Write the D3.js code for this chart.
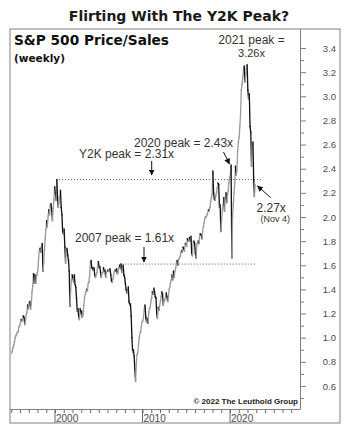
<!DOCTYPE html>
<html><head><meta charset="utf-8">
<script src="https://cdn.jsdelivr.net/npm/d3@7"></script>
<style>body{margin:0;background:#fff}</style>
</head><body><svg id="c" width="350" height="437"></svg>
<script>
// ---------- DATA ----------
const startYear = 1995;            // first month: Jan 1995, monthly readings
const psValues = [
  // 1995
  0.87,0.89,0.92,0.94,0.97,1.00,1.02,1.03,1.05,1.05,1.09,1.10,
  // 1996
  1.12,1.15,1.14,1.16,1.18,1.17,1.11,1.14,1.19,1.21,1.27,1.24,
  // 1997
  1.29,1.30,1.24,1.28,1.38,1.43,1.53,1.45,1.52,1.45,1.50,1.53,
  // 1998
  1.56,1.66,1.72,1.74,1.71,1.76,1.78,1.55,1.62,1.72,1.82,1.90,
  // 1999
  1.97,1.92,2.00,2.06,2.02,2.10,2.11,2.05,1.97,2.07,2.14,2.25,
  // 2000
  2.20,2.14,2.31,2.16,2.08,2.12,2.17,2.22,2.08,2.02,1.88,1.86,
  // 2001
  1.90,1.75,1.62,1.72,1.74,1.68,1.64,1.55,1.26,1.40,1.48,1.52,
  // 2002
  1.50,1.46,1.52,1.44,1.42,1.33,1.22,1.24,1.18,1.15,1.24,1.20,
  // 2003
  1.22,1.17,1.19,1.27,1.33,1.36,1.38,1.40,1.39,1.45,1.46,1.52,
  // 2004
  1.62,1.64,1.58,1.57,1.56,1.58,1.52,1.50,1.52,1.54,1.60,1.63,
  // 2005
  1.58,1.59,1.54,1.50,1.53,1.54,1.58,1.55,1.56,1.50,1.54,1.55,
  // 2006
  1.56,1.55,1.56,1.57,1.52,1.47,1.46,1.49,1.52,1.55,1.56,1.55,
  // 2007
  1.57,1.53,1.54,1.58,1.60,1.58,1.61,1.54,1.58,1.60,1.52,1.50,
  // 2008
  1.45,1.40,1.37,1.40,1.42,1.30,1.27,1.28,1.18,1.00,0.88,0.90,
  // 2009
  0.85,0.74,0.64,0.78,0.86,0.88,0.94,1.00,1.04,1.05,1.10,1.13,
  // 2010
  1.14,1.18,1.24,1.27,1.17,1.13,1.16,1.12,1.20,1.24,1.25,1.30,
  // 2011
  1.33,1.38,1.36,1.41,1.38,1.34,1.33,1.20,1.16,1.25,1.23,1.27,
  // 2012
  1.30,1.34,1.38,1.36,1.27,1.30,1.31,1.34,1.37,1.34,1.30,1.33,
  // 2013
  1.40,1.42,1.46,1.48,1.52,1.48,1.55,1.50,1.55,1.58,1.62,1.64,
  // 2014
  1.60,1.65,1.66,1.67,1.70,1.72,1.71,1.75,1.74,1.72,1.78,1.78,
  // 2015
  1.76,1.82,1.80,1.81,1.83,1.80,1.84,1.70,1.68,1.79,1.80,1.78,
  // 2016
  1.70,1.66,1.77,1.79,1.80,1.78,1.86,1.86,1.85,1.82,1.88,1.92,
  // 2017
  1.95,1.99,2.00,2.00,2.02,2.04,2.06,2.05,2.08,2.13,2.16,2.19,
  // 2018
  2.38,2.20,2.15,2.14,2.18,2.20,2.24,2.28,2.27,2.08,2.10,1.88,
  // 2019
  1.98,2.06,2.10,2.16,2.05,2.15,2.20,2.12,2.18,2.22,2.28,2.33,
  // 2020
  2.35,2.43,1.66,2.00,2.10,2.20,2.28,2.42,2.35,2.38,2.55,2.62,
  // 2021
  2.66,2.75,2.85,3.05,3.10,3.15,3.22,3.25,3.12,3.18,3.24,3.26,
  // 2022 (through Nov 4)
  3.05,2.98,3.02,2.75,2.70,2.42,2.58,2.62,2.30,2.17,2.27
];
const yMajorTicks = [0.6,0.8,1.0,1.2,1.4,1.6,1.8,2.0,2.2,2.4,2.6,2.8,3.0,3.2,3.4];
const yMinorTicks = [0.5,0.7,0.9,1.1,1.3,1.5,1.7,1.9,2.1,2.3,2.5,2.7,2.9,3.1,3.3];
const xTickYears = d3.range(1995, 2028);
const xLabelYears = [2000, 2010, 2020];
const y2kPeak = 2.31;
const peak2007 = 1.61;

const chartTitle = "Flirting With The Y2K Peak?";
const panelTitle = "S&P 500 Price/Sales";
const panelSub = "(weekly)";
const credit = "\u00A9 2022 The Leuthold Group";

// ---------- LAYOUT ----------
const frame = {left:10, top:29, right:340, bottom:423};
const plotRight = 300, plotBottom = 409;
const gray = "#808080";

const svg = d3.select("#c");
const x = d3.scaleLinear().domain([2000, 2020]).range([55, 230]);
const y = d3.scaleLinear().domain([0.6, 3.4]).range([386, 48]);

const series = psValues.map((v, i) => ({t: startYear + (i + 0.5) / 12, v}));

// title
svg.append("text").attr("x", 179).attr("y", 20.5).attr("text-anchor", "middle")
  .attr("font-family", "DejaVu Sans").attr("font-weight", "bold").attr("font-size", 14)
  .attr("fill", "#1a1a1a").text(chartTitle);

// defs
const defs = svg.append("defs");
defs.append("clipPath").attr("id", "clip").append("rect")
  .attr("x", frame.left).attr("y", frame.top)
  .attr("width", plotRight - frame.left).attr("height", plotBottom - frame.top);
defs.append("marker").attr("id", "ah").attr("viewBox", "0 0 10 10")
  .attr("refX", 9).attr("refY", 5).attr("markerWidth", 6).attr("markerHeight", 6)
  .attr("markerUnits", "userSpaceOnUse").attr("orient", "auto")
  .append("path").attr("d", "M0,0L10,5L0,10Z").attr("fill", "#111");

// dotted reference lines
const refs = [
  {v: y2kPeak, from: 2000.12, to: 2023.55},
  {v: peak2007, from: 2007.62, to: 2022.98}
];
svg.append("g").selectAll("line").data(refs).join("line")
  .attr("x1", d => x(d.from)).attr("x2", d => x(d.to))
  .attr("y1", d => y(d.v)).attr("y2", d => y(d.v))
  .attr("stroke", "#555").attr("stroke-width", 1).attr("stroke-dasharray", "1,2");

// series: segments colored by direction
const segs = d3.pairs(series);
svg.append("g").attr("clip-path", "url(#clip)").selectAll("line").data(segs).join("line")
  .attr("x1", d => x(d[0].t)).attr("y1", d => y(d[0].v))
  .attr("x2", d => x(d[1].t)).attr("y2", d => y(d[1].v))
  .attr("stroke", d => d[1].v >= d[0].v ? "#9a9a9a" : "#111")
  .attr("stroke-width", 1.3).attr("stroke-linecap", "square");

// right axis
const yAxisG = svg.append("g").attr("transform", `translate(${plotRight},0)`)
  .call(d3.axisRight(y).tickValues(yMajorTicks).tickSize(6).tickFormat(d3.format(".1f")));
yAxisG.select(".domain").remove();
yAxisG.selectAll(".tick line").attr("stroke", gray);
yAxisG.selectAll(".tick text").attr("x", 36).attr("text-anchor", "end")
  .attr("font-family", "Liberation Sans, Arial, sans-serif").attr("font-size", 9.5).attr("fill", "#4a4a5a");
const yMinorG = svg.append("g").attr("transform", `translate(${plotRight},0)`)
  .call(d3.axisRight(y).tickValues(yMinorTicks).tickSize(4).tickFormat(""));
yMinorG.select(".domain").remove();
yMinorG.selectAll(".tick line").attr("stroke", gray);

// bottom axis
const xAxisG = svg.append("g").attr("transform", `translate(0,${plotBottom})`)
  .call(d3.axisBottom(x).tickValues(xTickYears).tickSize(4).tickFormat(""));
xAxisG.select(".domain").remove();
xAxisG.selectAll(".tick line").attr("stroke", "#666");
svg.append("g").selectAll("line").data(xLabelYears).join("line")
  .attr("x1", d => x(d)).attr("x2", d => x(d))
  .attr("y1", plotBottom).attr("y2", frame.bottom).attr("stroke", "#666");
svg.append("g").selectAll("text").data(xLabelYears).join("text")
  .attr("x", d => x(d) + 1).attr("y", 421.5)
  .attr("font-family", "Liberation Sans, Arial, sans-serif").attr("font-size", 10)
  .attr("fill", "#4a4a5a").text(d => d);

// frames
svg.append("rect").attr("x", frame.left).attr("y", frame.top)
  .attr("width", frame.right - frame.left).attr("height", frame.bottom - frame.top)
  .attr("fill", "none").attr("stroke", gray);
svg.append("line").attr("x1", plotRight + 0.5).attr("x2", plotRight + 0.5)
  .attr("y1", frame.top).attr("y2", plotBottom).attr("stroke", gray);
svg.append("line").attr("x1", frame.left).attr("x2", plotRight + 0.5)
  .attr("y1", plotBottom + 0.5).attr("y2", plotBottom + 0.5).attr("stroke", gray);

// panel titles
svg.append("text").attr("x", 14).attr("y", 45)
  .attr("font-family", "DejaVu Sans").attr("font-weight", "bold").attr("font-size", 13.7)
  .attr("fill", "#111").text(panelTitle);
svg.append("text").attr("x", 14).attr("y", 62)
  .attr("font-family", "DejaVu Sans").attr("font-weight", "bold").attr("font-size", 10.5)
  .attr("fill", "#111").text(panelSub);

// annotations
const ann = svg.append("g").attr("font-family", "Liberation Sans, Arial, sans-serif").attr("fill", "#333");
const notes = [
  {t: "2021 peak =", x: 251.5, y: 44, a: "middle", s: 12},
  {t: "3.26x", x: 251.5, y: 57.2, a: "middle", s: 11},
  {t: "2020 peak = 2.43x", x: 134, y: 146.5, a: "start", s: 12},
  {t: "Y2K peak = 2.31x", x: 79, y: 158, a: "start", s: 12},
  {t: "2007 peak = 1.61x", x: 75, y: 241.7, a: "start", s: 12},
  {t: "2.27x", x: 256.5, y: 211.7, a: "start", s: 12},
  {t: "(Nov 4)", x: 260.5, y: 221.5, a: "start", s: 9}
];
ann.selectAll("text").data(notes).join("text")
  .attr("x", d => d.x).attr("y", d => d.y).attr("text-anchor", d => d.a)
  .attr("font-size", d => d.s).text(d => d.t);

const arrows = [
  {x1: 223.5, y1: 152, x2: 229.5, y2: 164},
  {x1: 151.7, y1: 161, x2: 151.7, y2: 175},
  {x1: 144, y1: 247, x2: 144, y2: 262},
  {x1: 270.5, y1: 197.5, x2: 257.5, y2: 186}
];
svg.append("g").selectAll("line").data(arrows).join("line")
  .attr("x1", d => d.x1).attr("y1", d => d.y1).attr("x2", d => d.x2).attr("y2", d => d.y2)
  .attr("stroke", "#111").attr("stroke-width", 1).attr("marker-end", "url(#ah)");

// credit
svg.append("text").attr("x", 298).attr("y", 404).attr("text-anchor", "end")
  .attr("font-family", "Liberation Sans, Arial, sans-serif").attr("font-weight", "bold")
  .attr("font-size", 8).attr("fill", "#222").text(credit);
</script>
</body></html>
